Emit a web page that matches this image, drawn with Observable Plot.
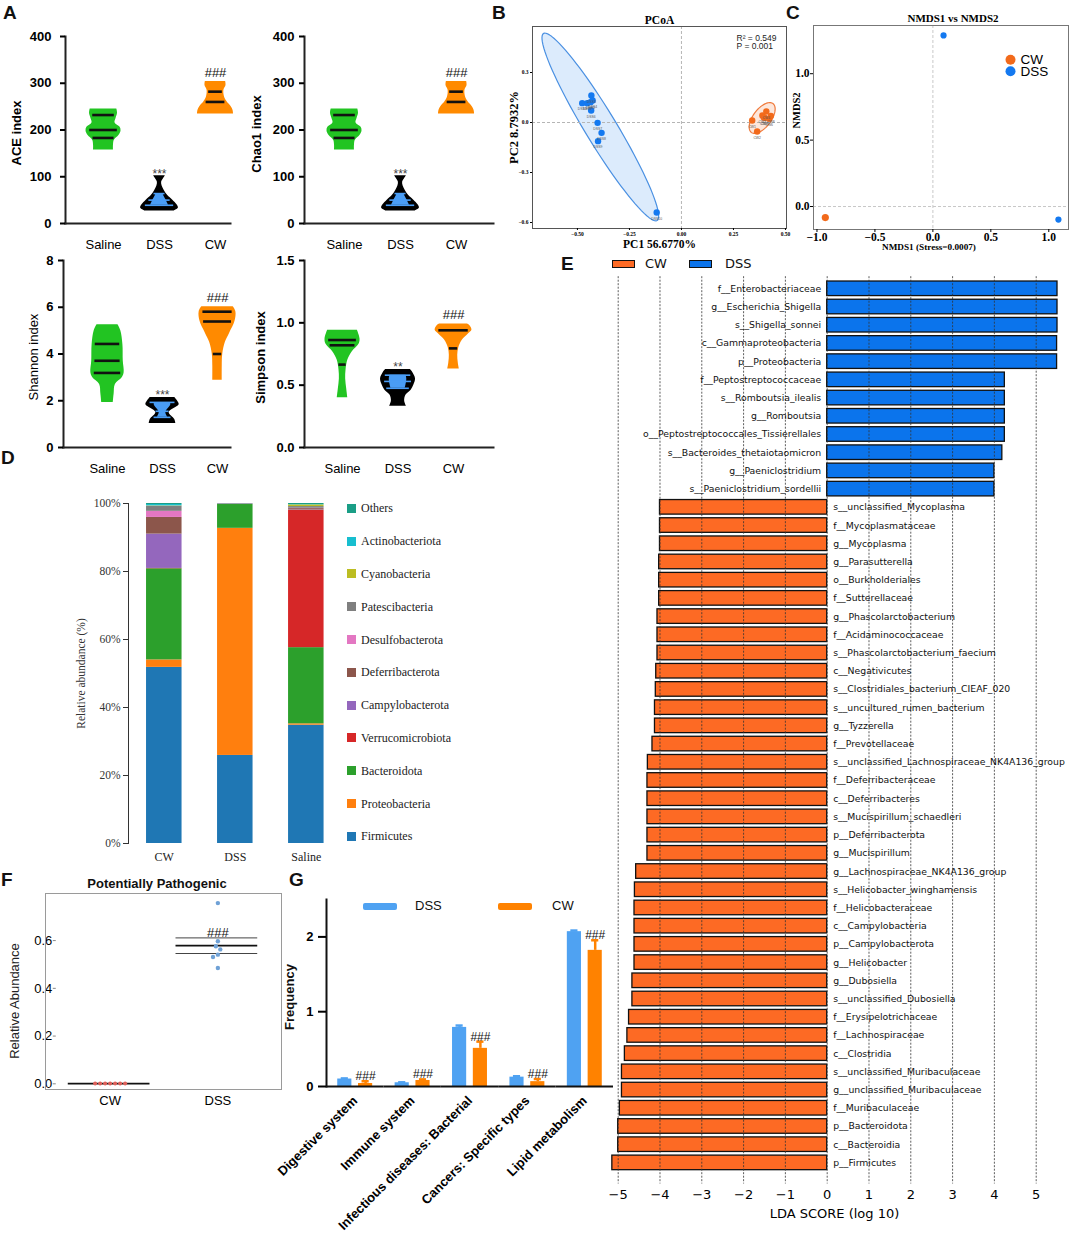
<!DOCTYPE html>
<html><head><meta charset="utf-8">
<script src="https://cdn.jsdelivr.net/npm/d3@7"></script>
<script src="https://cdn.jsdelivr.net/npm/@observablehq/plot@0.6"></script>
<style>
html,body{margin:0;padding:0;background:#fff;}
#page{position:relative;width:1072px;height:1243px;overflow:hidden;font-family:"Liberation Sans",Arial,sans-serif;}
#page svg{overflow:visible;}
.plab{position:absolute;font:bold 19px "Liberation Sans",Arial,sans-serif;line-height:1;color:#111;}
</style></head><body><div id="page"></div>
<script>
// ---------------- DATA ----------------
// Panel A: violin profiles [value, relative density width]
const groupsA = ["Saline", "DSS", "CW"];
const aceSaline = [[157,0.57],[168,0.57],[178,0.62],[188,0.88],[198,1.0],[206,0.95],[215,0.66],[225,0.72],[236,0.8],[245,0.76]];
const aceDSS = [[27,0.85],[33,1.08],[40,1.0],[50,0.76],[60,0.47],[70,0.28],[80,0.15],[88,0.12],[95,0.22],[102,0.34]];
const aceCW = [[234,1.03],[242,1.0],[250,0.9],[260,0.67],[270,0.52],[285,0.48],[295,0.6],[304,0.58]];
const aceQuart = [[232,200,183],[64,50,39],[282,260]];
const aceSig = ["", "***", "###"];
const chao1Saline = [[157,0.57],[168,0.57],[178,0.62],[188,0.88],[198,1.0],[206,0.95],[215,0.66],[225,0.72],[236,0.8],[245,0.76]];
const chao1DSS = [[27,0.85],[33,1.08],[40,1.0],[50,0.76],[60,0.47],[70,0.28],[80,0.15],[88,0.12],[95,0.22],[102,0.34]];
const chao1CW = [[234,1.03],[242,1.0],[250,0.9],[260,0.67],[270,0.52],[285,0.48],[295,0.6],[304,0.58]];
const chao1Quart = [[232,200,183],[64,50,39],[282,260]];
const chao1Sig = ["", "***", "###"];
const shannonSaline = [[1.93,0.33],[2.3,0.38],[2.7,0.45],[3.0,0.85],[3.2,0.95],[3.7,0.9],[4.4,0.88],[5.0,0.76],[5.25,0.6]];
const shannonDSS = [[1.03,0.76],[1.2,0.7],[1.5,0.38],[1.83,0.95],[2.0,0.85],[2.14,0.7]];
const shannonCW = [[2.88,0.27],[3.5,0.27],[4.0,0.3],[4.5,0.45],[4.9,0.7],[5.4,1.0],[5.8,1.05],[6.02,0.9]];
const shannonQuart = [[4.43,3.71,3.19],[1.93,1.55,1.29],[5.81,5.39,4.0]];
const shannonSig = ["", "***", "###"];
const simpsonSaline = [[0.40,0.3],[0.47,0.24],[0.55,0.18],[0.62,0.2],[0.7,0.3],[0.77,0.57],[0.83,0.95],[0.87,1.0],[0.94,0.85]];
const simpsonDSS = [[0.33,0.48],[0.37,0.38],[0.42,0.45],[0.46,0.75],[0.5,0.9],[0.55,1.0],[0.6,0.85],[0.625,0.7]];
const simpsonCW = [[0.63,0.33],[0.68,0.27],[0.74,0.24],[0.8,0.3],[0.86,0.5],[0.91,0.85],[0.94,1.05],[0.975,0.95],[0.99,0.8]];
const simpsonQuart = [[0.862,0.82,0.665],[0.58,0.53,0.475],[0.94,0.795]];
const simpsonSig = ["", "**", "###"];

// Panel B: PCoA
const pcoaDSSx = [-0.477,-0.453,-0.433,-0.427,-0.437,-0.434,-0.403,-0.384,-0.401,-0.119];
const pcoaDSSy = [0.116,0.116,0.162,0.132,0.122,0.072,-0.002,-0.062,-0.112,-0.54];
const pcoaCWx = [0.340,0.364,0.389,0.408,0.401,0.422,0.396,0.430];
const pcoaCWy = [0.012,-0.054,0.042,0.066,0.028,0.022,0.030,0.040];
// confidence ellipses: centre and two semi-axis vectors (data units)
const ellGroups = ["DSS", "CW"];
const ellCX = [-0.39, 0.388], ellCY = [-0.027, 0.027];
const ellUX = [-0.273, 0.052], ellUY = [0.561, 0.0864];
const ellVX = [0.0644, 0.0346], ellVY = [0.0489, -0.0324];

// Panel C: NMDS
const nmdsGroups = ["CW", "DSS", "DSS"];
const nmdsX = [-0.928, 0.092, 1.083];
const nmdsY = [-0.083, 1.288, -0.098];

// Panel D: relative abundance (%)
const phyla = ["Firmicutes","Proteobacteria","Bacteroidota","Verrucomicrobiota","Campylobacterota","Deferribacterota","Desulfobacterota","Patescibacteria","Cyanobacteria","Actinobacteriota","Others"];
const groupsD = ["CW", "DSS", "Saline"];
const abCW = [51.8, 2.2, 26.8, 0.1, 10.1, 4.9, 1.8, 1.5, 0.1, 0.4, 0.3];
const abDSS = [25.9, 66.8, 7.0, 0.05, 0.0, 0.1, 0.05, 0.0, 0.0, 0.05, 0.05];
const abSaline = [34.8, 0.4, 22.4, 40.4, 0.1, 0.4, 0.1, 0.5, 0.5, 0.1, 0.3];

// Panel E: LDA scores
const ldaDSSNames = ["f__Enterobacteriaceae","g__Escherichia_Shigella","s__Shigella_sonnei","c__Gammaproteobacteria","p__Proteobacteria","f__Peptostreptococcaceae","s__Romboutsia_ilealis","g__Romboutsia","o__Peptostreptococcales_Tissierellales","s__Bacteroides_thetaiotaomicron","g__Paeniclostridium","s__Paeniclostridium_sordellii"];
const ldaDSS = [5.51,5.51,5.51,5.50,5.50,4.25,4.25,4.25,4.25,4.19,4.00,4.00];
const ldaCWNames = ["s__unclassified_Mycoplasma","f__Mycoplasmataceae","g__Mycoplasma","g__Parasutterella","o__Burkholderiales","f__Sutterellaceae","g__Phascolarctobacterium","f__Acidaminococcaceae","s__Phascolarctobacterium_faecium","c__Negativicutes","s__Clostridiales_bacterium_CIEAF_020","s__uncultured_rumen_bacterium","g__Tyzzerella","f__Prevotellaceae","s__unclassified_Lachnospiraceae_NK4A136_group","f__Deferribacteraceae","c__Deferribacteres","s__Mucispirillum_schaedleri","p__Deferribacterota","g__Mucispirillum","g__Lachnospiraceae_NK4A136_group","s__Helicobacter_winghamensis","f__Helicobacteraceae","c__Campylobacteria","p__Campylobacterota","g__Helicobacter","g__Dubosiella","s__unclassified_Dubosiella","f__Erysipelotrichaceae","f__Lachnospiraceae","c__Clostridia","s__unclassified_Muribaculaceae","g__unclassified_Muribaculaceae","f__Muribaculaceae","p__Bacteroidota","c__Bacteroidia","p__Firmicutes"];
const ldaCW = [-4.00,-4.00,-4.00,-4.02,-4.02,-4.02,-4.06,-4.06,-4.06,-4.09,-4.10,-4.12,-4.12,-4.18,-4.29,-4.30,-4.30,-4.30,-4.30,-4.30,-4.57,-4.60,-4.61,-4.61,-4.61,-4.61,-4.66,-4.66,-4.74,-4.78,-4.84,-4.91,-4.91,-4.96,-5.00,-5.00,-5.14];
const ldaTicks = [-5,-4,-3,-2,-1,0,1,2,3,4,5];

// Panel F: potentially pathogenic
const ppGroups = ["CW", "DSS"];
const ppCW = [0.001,0.001,0.001,0.001,0.001,0.001,0.001];
const ppDSS = [0.757,0.597,0.576,0.563,0.541,0.531,0.485];

// Panel G: KEGG frequency
const kegg = ["Digestive system","Immune system","Infectious diseases: Bacterial","Cancers: Specific types","Lipid metabolism"];
const keggDSS = [0.10, 0.05, 0.79, 0.125, 2.07];
const keggDSSErr = [0.008, 0.006, 0.025, 0.012, 0.015];
const keggCW = [0.04, 0.08, 0.51, 0.065, 1.82];
const keggCWErr = [0.03, 0.015, 0.09, 0.035, 0.135];

// ---------------- STYLE ----------------
const SANS = "'Liberation Sans', Arial, sans-serif";
const SERIF = "'Liberation Serif', 'Times New Roman', serif";
const DEJAVU = "'DejaVu Sans', sans-serif";
const colorsA = ["#22c422", "#000000", "#ff8a00"];
const innerBlue = "#4a9df5";
const phylaColors = ["#1f77b4","#ff7f0e","#2ca02c","#d62728","#9467bd","#8c564b","#e377c2","#7f7f7f","#bcbd22","#17becf","#1a9e86"];
const ldaColor = {CW: "#fd6a24", DSS: "#0b74ec"};
const pcoaBlue = "#1479f0", pcoaOrange = "#f26a1b";

const page = document.getElementById("page");
function put(node, left, top, w) {
  const d = document.createElement("div");
  d.style.cssText = `position:absolute;left:${left}px;top:${top}px;width:${w}px;`;
  d.appendChild(node); page.appendChild(d); return d;
}
function html(text, left, top, css) {
  const d = document.createElement("div");
  d.textContent = text;
  d.style.cssText = `position:absolute;left:${left}px;top:${top}px;white-space:nowrap;` + (css || "");
  page.appendChild(d); return d;
}
function vtext(text, cx, cy, css) {
  const d = html(text, cx, cy, css);
  d.style.transform = "translate(-50%,-50%) rotate(-90deg)";
  return d;
}
const baseStyle = f => ({fontFamily: f, background: "transparent", overflow: "visible"});

// ---------------- PANEL A ----------------
const HW = 17.5; // px of max half width
function interp(prof, v) {
  for (let i = 1; i < prof.length; i++) {
    const [v0, w0] = prof[i - 1], [v1, w1] = prof[i];
    if (v >= v0 && v <= v1) return w0 + (w1 - w0) * (v - v0) / (v1 - v0);
  }
  return v < prof[0][0] ? prof[0][1] : prof[prof.length - 1][1];
}
function violinPanel(o) {
  const hw = HW / o.spacing;
  const shapes = [], inner = [], lines = [], stars = [], hashes = [];
  o.profiles.forEach((prof, i) => {
    const pos = i + 1, g = groupsA[i];
    for (const [v, w] of prof) shapes.push({g, v, x1: pos - w * hw, x2: pos + w * hw});
    const q = o.quarts[i];
    if (g === "DSS") {
      const lo = d3.min(q), hi = d3.max(q);
      const vs = [lo, ...prof.map(p => p[0]).filter(v => v > lo && v < hi), hi];
      for (const v of vs) { const w = interp(prof, v) * 0.5; inner.push({g, v, x1: pos - w * hw, x2: pos + w * hw}); }
    }
    for (const v of q) { const w = interp(prof, v) * 0.8; lines.push({g, v, x1: pos - w * hw, x2: pos + w * hw}); }
    const s = o.sig[i], top = d3.max(prof, p => p[0]);
    if (s.startsWith("*")) stars.push({pos, v: top, s});
    else if (s) hashes.push({pos, v: top, s});
  });
  const marks = [];
  groupsA.forEach((g, i) => marks.push(Plot.areaX(shapes.filter(d => d.g === g), {y: "v", x1: "x1", x2: "x2", fill: colorsA[i], curve: "catmull-rom"})));
  marks.push(Plot.areaX(inner, {y: "v", x1: "x1", x2: "x2", fill: innerBlue, curve: "catmull-rom"}));
  marks.push(Plot.ruleY(lines.filter(d => d.g !== "DSS"), {y: "v", x1: "x1", x2: "x2", stroke: "#111", strokeWidth: 2.6}));
  marks.push(Plot.ruleY(lines.filter(d => d.g === "DSS"), {y: "v", x1: "x1", x2: "x2", stroke: innerBlue, strokeWidth: 1.6}));
  marks.push(Plot.text(stars, {x: "pos", y: "v", text: "s", dy: -2, fontSize: 12, fill: "#444"}));
  marks.push(Plot.text(hashes, {x: "pos", y: "v", text: "s", dy: -9, fontSize: 13, fill: "#111"}));
  marks.push(Plot.frame({anchor: "left", stroke: "#222", strokeWidth: 2}));
  marks.push(Plot.frame({anchor: "bottom", stroke: "#222", strokeWidth: 2}));
  marks.push(Plot.axisY({ticks: o.yTicks, tickFormat: o.yFmt, tickSize: 5, tickPadding: o.tp, fontSize: 13, fontWeight: "bold", strokeWidth: 2, label: null}));
  marks.push(Plot.axisX({ticks: [1, 2, 3], tickFormat: i => groupsA[i - 1], tickSize: 0, tickPadding: 16, fontSize: 13, label: null}));
  marks.push(Plot.text([o.title], {frameAnchor: "left", textAnchor: "middle", lineAnchor: "middle", dx: o.titleDx, dy: o.titleDy, rotate: -90, fontSize: 13, fontWeight: o.titleBold ? "bold" : "normal"}));
  const p = Plot.plot({width: o.width, height: o.height, marginLeft: o.mL, marginRight: o.mR, marginTop: o.mT, marginBottom: o.mB,
    x: {domain: o.xDomain}, y: {domain: o.yDomain}, style: baseStyle(SANS), marks});
  put(p, o.left, o.top, o.width);
}
const f0 = d3.format("d"), f1 = d3.format(".1f");
violinPanel({profiles: [aceSaline, aceDSS, aceCW], quarts: aceQuart, sig: aceSig, spacing: 56, left: 0, top: 0, width: 240, height: 260,
  mL: 65, mR: 10, mT: 36, mB: 37, xDomain: [0.321, 3.268], yDomain: [0, 400], yTicks: [0, 100, 200, 300, 400], yFmt: f0, tp: 9,
  title: "ACE index", titleBold: true, titleDx: -49, titleDy: 3});
violinPanel({profiles: [chao1Saline, chao1DSS, chao1CW], quarts: chao1Quart, sig: chao1Sig, spacing: 56, left: 240, top: 0, width: 260, height: 260,
  mL: 64, mR: 7, mT: 36, mB: 37, xDomain: [0.286, 3.66], yDomain: [0, 400], yTicks: [0, 100, 200, 300, 400], yFmt: f0, tp: 5,
  title: "Chao1 index", titleBold: true, titleDx: -48, titleDy: 4});
violinPanel({profiles: [shannonSaline, shannonDSS, shannonCW], quarts: shannonQuart, sig: shannonSig, spacing: 55, left: 0, top: 250, width: 240, height: 230,
  mL: 63, mR: 10, mT: 10, mB: 33, xDomain: [0.2, 3.236], yDomain: [0, 8], yTicks: [0, 2, 4, 6, 8], yFmt: f0, tp: 5,
  title: "Shannon index", titleBold: false, titleDx: -30, titleDy: 3});
violinPanel({profiles: [simpsonSaline, simpsonDSS, simpsonCW], quarts: simpsonQuart, sig: simpsonSig, spacing: 55.5, left: 240, top: 250, width: 260, height: 230,
  mL: 64, mR: 7, mT: 10, mB: 33, xDomain: [0.315, 3.72], yDomain: [0, 1.5], yTicks: [0, 0.5, 1, 1.5], yFmt: f1, tp: 5,
  title: "Simpson index", titleBold: true, titleDx: -44, titleDy: 3.5});

// ---------------- PANEL B ----------------
const pcoaPts = [
  ...pcoaDSSx.map((x, i) => ({g: "DSS", id: "DSS" + (i + 1), x, y: pcoaDSSy[i]})),
  ...pcoaCWx.map((x, i) => ({g: "CW", id: "CW" + (i + 1), x, y: pcoaCWy[i]}))
];
function ellipsePts(i) {
  const pts = [];
  for (let k = 0; k <= 90; k++) {
    const t = k / 90 * 2 * Math.PI;
    pts.push({x: ellCX[i] + ellUX[i] * Math.cos(t) + ellVX[i] * Math.sin(t), y: ellCY[i] + ellUY[i] * Math.cos(t) + ellVY[i] * Math.sin(t)});
  }
  return pts;
}
{
  const p = Plot.plot({width: 300, height: 260, marginLeft: 32, marginRight: 14, marginTop: 26, marginBottom: 32,
    x: {domain: [-0.716, 0.505]}, y: {domain: [-0.636, 0.576]}, style: baseStyle(SERIF),
    marks: [
      Plot.line(ellipsePts(0), {x: "x", y: "y", fill: "#dcebfc", stroke: "#4a90e2", strokeWidth: 1.2}),
      Plot.line(ellipsePts(1), {x: "x", y: "y", fill: "#fde6da", stroke: "#f07a3c", strokeWidth: 1.2}),
      Plot.ruleX([0], {stroke: "#b5b5b5", strokeDasharray: "3,2"}),
      Plot.ruleY([0], {stroke: "#b5b5b5", strokeDasharray: "3,2"}),
      Plot.dot(pcoaPts.filter(d => d.g === "DSS"), {x: "x", y: "y", r: 3.2, fill: pcoaBlue}),
      Plot.dot(pcoaPts.filter(d => d.g === "CW"), {x: "x", y: "y", r: 3.2, fill: pcoaOrange}),
      Plot.text(pcoaPts, {x: "x", y: "y", text: "id", dy: 6, fontSize: 3.4, fill: "#555", fontFamily: SANS}),
      Plot.frame({stroke: "#555"}),
      Plot.axisX({ticks: [-0.5, -0.25, 0, 0.25, 0.5], tickFormat: d3.format(".2f"), tickSize: 2, tickPadding: 2, fontSize: 5.5, fontWeight: "bold", label: null}),
      Plot.axisY({ticks: [-0.6, -0.3, 0, 0.3], tickFormat: d3.format(".1f"), tickSize: 2, tickPadding: 2, fontSize: 5.5, fontWeight: "bold", label: null}),
      Plot.text(["PCoA"], {frameAnchor: "top", lineAnchor: "middle", dy: -6, fontSize: 11.5, fontWeight: "bold"}),
      Plot.text(["R² = 0.549"], {frameAnchor: "top-right", lineAnchor: "middle", dx: -50, dy: 11.5, textAnchor: "start", fontSize: 8.5, fontFamily: SANS, fill: "#222"}),
      Plot.text(["P = 0.001"], {frameAnchor: "top-right", lineAnchor: "middle", dx: -50, dy: 19.8, textAnchor: "start", fontSize: 8.5, fontFamily: SANS, fill: "#222"}),
      Plot.text(["PC1 56.6770%"], {frameAnchor: "bottom", lineAnchor: "middle", dy: 15.5, fontSize: 11.5, fontWeight: "bold"}),
      Plot.text(["PC2 8.7932%"], {frameAnchor: "left", textAnchor: "middle", lineAnchor: "middle", dx: -19, rotate: -90, fontSize: 12.5, fontWeight: "bold"})
    ]});
  put(p, 500, 0, 300);
}

// ---------------- PANEL C ----------------
{
  const pts = nmdsX.map((x, i) => ({g: nmdsGroups[i], x, y: nmdsY[i]}));
  const p = Plot.plot({width: 292, height: 260, marginLeft: 33, marginRight: 4, marginTop: 25, marginBottom: 31,
    x: {domain: [-1.03, 1.17]}, y: {domain: [-0.173, 1.363]}, style: baseStyle(SERIF),
    marks: [
      Plot.ruleX([0], {stroke: "#c8c8c8", strokeDasharray: "3,2"}),
      Plot.ruleY([0], {stroke: "#c8c8c8", strokeDasharray: "3,2"}),
      Plot.dot(pts.filter(d => d.g === "CW"), {x: "x", y: "y", r: 3.6, fill: pcoaOrange}),
      Plot.dot(pts.filter(d => d.g === "DSS"), {x: "x", y: "y", r: 3.1, fill: pcoaBlue}),
      Plot.frame({stroke: "#777"}),
      Plot.axisX({ticks: [-1, -0.5, 0, 0.5, 1], tickFormat: d3.format(".1f"), tickSize: 3, tickPadding: 0, fontSize: 11.5, fontWeight: "bold", label: null}),
      Plot.axisY({ticks: [0, 0.5, 1], tickFormat: d3.format(".1f"), tickSize: 3, tickPadding: 1, fontSize: 11.5, fontWeight: "bold", label: null}),
      Plot.text(["NMDS1 vs NMDS2"], {frameAnchor: "top", lineAnchor: "middle", dx: 12, dy: -7, fontSize: 11, fontWeight: "bold"}),
      Plot.text(["NMDS1 (Stress=0.0007)"], {frameAnchor: "bottom", lineAnchor: "middle", dx: -12, dy: 17.5, fontSize: 9.2, fontWeight: "bold"}),
      Plot.text(["NMDS2"], {frameAnchor: "left", textAnchor: "middle", lineAnchor: "middle", dx: -17, dy: -17, rotate: -90, fontSize: 10.5, fontWeight: "bold"}),
      Plot.dot(["CW"], {frameAnchor: "top-right", dx: -58, dy: 34.3, r: 5, fill: pcoaOrange}),
      Plot.dot(["DSS"], {frameAnchor: "top-right", dx: -58, dy: 45.7, r: 5, fill: pcoaBlue}),
      Plot.text(["CW"], {frameAnchor: "top-right", lineAnchor: "middle", dx: -48, dy: 34.3, textAnchor: "start", fontSize: 13.5, fontFamily: SANS}),
      Plot.text(["DSS"], {frameAnchor: "top-right", lineAnchor: "middle", dx: -48, dy: 45.7, textAnchor: "start", fontSize: 13.5, fontFamily: SANS})
    ]});
  put(p, 780, 0, 292);
}

// ---------------- PANEL D ----------------
{
  const abund = [abCW, abDSS, abSaline];
  const rows = [];
  groupsD.forEach((g, gi) => phyla.forEach((ph, pi) => rows.push({g, ph, v: abund[gi][pi]})));
  const p = Plot.plot({width: 560, height: 390, marginLeft: 128, marginRight: 218.4, marginTop: 23, marginBottom: 27,
    x: {domain: groupsD, paddingInner: 0.5, paddingOuter: 0.254, round: false}, y: {domain: [0, 100]},
    color: {domain: phyla, range: phylaColors}, style: baseStyle(SERIF),
    marks: [
      Plot.barY(rows, {x: "g", y: "v", fill: "ph"}),
      Plot.frame({anchor: "left", stroke: "#333"}),
      Plot.axisY({ticks: [0, 20, 40, 60, 80, 100], tickFormat: d => d + "%", tickSize: 5, tickPadding: 3, fontSize: 11.5, fill: "#333", stroke: "#333", label: null}),
      Plot.axisX({tickSize: 0, tickPadding: 9, fontSize: 12, fill: "#222", label: null}),
      Plot.text(["Relative abundance (%)"], {frameAnchor: "left", textAnchor: "middle", lineAnchor: "middle", dx: -47, rotate: -90, fontSize: 11.5, fill: "#333"})
    ]});
  put(p, 0, 480, 560);
  // legend (reverse of stacking order)
  phyla.slice().reverse().forEach((ph, k) => {
    const color = phylaColors[phyla.indexOf(ph)];
    const cy = 508.3 + k * 32.8;
    const sw = document.createElement("div");
    sw.style.cssText = `position:absolute;left:347px;top:${cy - 4.5}px;width:9px;height:9px;background:${color};`;
    page.appendChild(sw);
    html(ph, 361, cy - 8, `font:12px ${SERIF};line-height:16px;color:#222;`);
  });
}

// ---------------- PANEL E ----------------
{
  const rows = [
    ...ldaDSSNames.map((n, i) => ({n, v: ldaDSS[i], g: "DSS"})),
    ...ldaCWNames.map((n, i) => ({n, v: ldaCW[i], g: "CW"}))
  ];
  const p = Plot.plot({width: 472, height: 993, marginLeft: 10, marginRight: 4, marginTop: 29.2, marginBottom: 71.5,
    x: {domain: [-5.184, 5.773]}, y: {domain: rows.map(d => d.n), paddingInner: 0.2, paddingOuter: 0.1, round: false, axis: null},
    style: baseStyle(DEJAVU),
    marks: [
      Plot.barX(rows.filter(d => d.g === "DSS"), {y: "n", x: "v", fill: ldaColor.DSS, stroke: "#111", strokeWidth: 1.3}),
      Plot.barX(rows.filter(d => d.g === "CW"), {y: "n", x: "v", fill: ldaColor.CW, stroke: "#111", strokeWidth: 1.3}),
      Plot.ruleX(ldaTicks, {stroke: "#333", strokeDasharray: "2,1.5", strokeWidth: 0.8, insetTop: -3, insetBottom: -12}),
      Plot.text(rows.filter(d => d.g === "DSS"), {y: "n", x: 0, text: "n", textAnchor: "end", dx: -6, fontSize: 9.3, fill: "#111"}),
      Plot.text(rows.filter(d => d.g === "CW"), {y: "n", x: 0, text: "n", textAnchor: "start", dx: 6, fontSize: 9.3, fill: "#111"}),
      Plot.axisX({ticks: ldaTicks, tickSize: 0, tickPadding: 18, fontSize: 13, label: null}),
      Plot.text(["LDA SCORE (log 10)"], {frameAnchor: "bottom", lineAnchor: "middle", dx: -5, dy: 42, fontSize: 13})
    ]});
  put(p, 600, 250, 472);
  // legend
  const box = (l, c) => { const d = document.createElement("div"); d.style.cssText = `position:absolute;left:${l}px;top:259.5px;width:23px;height:8px;background:${c};border:1.4px solid #111;box-sizing:border-box;`; page.appendChild(d); };
  box(611.7, ldaColor.CW); box(688.7, ldaColor.DSS);
  html("CW", 645, 255.5, `font:13px ${DEJAVU};line-height:16px;color:#111;`);
  html("DSS", 725, 255.5, `font:13px ${DEJAVU};line-height:16px;color:#111;`);
}

// ---------------- PANEL F ----------------
{
  const rows = [...ppCW.map(v => ({g: "CW", v})), ...ppDSS.map(v => ({g: "DSS", v}))];
  const stats = ppGroups.map(g => {
    const vals = rows.filter(d => d.g === g).map(d => d.v);
    return {g, mean: d3.mean(vals), sem: d3.deviation(vals) / Math.sqrt(vals.length)};
  });
  const semRows = stats.filter(d => d.sem > 0.001).flatMap(d => [{g: d.g, v: d.mean - d.sem}, {g: d.g, v: d.mean + d.sem}]);
  const p = Plot.plot({width: 290, height: 245, marginLeft: 45, marginRight: 8, marginTop: 23.3, marginBottom: 25,
    fx: {domain: ppGroups, paddingInner: 0, paddingOuter: 0.1, round: false}, y: {domain: [-0.028, 0.796]}, style: baseStyle(SANS),
    marks: [
      Plot.ruleY(stats, {fx: "g", y: "mean", insetLeft: 12, insetRight: 14, stroke: "#111", strokeWidth: 1.8}),
      Plot.ruleY(semRows, {fx: "g", y: "v", insetLeft: 12, insetRight: 14, stroke: "#444", strokeWidth: 1}),
      Plot.dot(rows.filter(d => d.g === "CW"), Plot.dodgeX("middle", {fx: "g", y: "v", r: 2, fill: "#e0605a"})),
      Plot.dot(rows.filter(d => d.g === "DSS"), Plot.dodgeX("middle", {fx: "g", y: "v", r: 2.2, fill: "#6fa1d6"})),
      Plot.text(stats.filter(d => d.g === "DSS"), {fx: "g", y: d => d.mean + d.sem, text: () => "###", lineAnchor: "bottom", dy: -1, fontSize: 13, fill: "#111"}),
      Plot.axisY({ticks: [0, 0.2, 0.4, 0.6], tickFormat: d3.format(".1f"), tickSize: 3, tickPadding: 1, fontSize: 13, stroke: "#888", label: null}),
      Plot.axisFx({anchor: "bottom", tickSize: 0, tickPadding: 5, fontSize: 13, label: null})
    ]});
  put(p, 0, 870, 290);
  const fr = document.createElement("div");
  fr.style.cssText = "position:absolute;left:45px;top:893px;width:237px;height:197px;border:1.2px solid #9a9a9a;box-sizing:border-box;";
  page.appendChild(fr);
  html("Potentially Pathogenic", 157, 876, `font:bold 13px ${SANS};line-height:16px;color:#111;transform:translateX(-50%);`);
  vtext("Relative Abundance", 15, 1001, `font:13px ${SANS};line-height:16px;color:#222;`);
}

// ---------------- PANEL G ----------------
{
  const rows = [];
  kegg.forEach((c, i) => {
    rows.push({c, g: "DSS", v: keggDSS[i], e: keggDSSErr[i]});
    rows.push({c, g: "CW", v: keggCW[i], e: keggCWErr[i]});
  });
  const p = Plot.plot({width: 373, height: 363, marginLeft: 86, marginRight: 0, marginTop: 19, marginBottom: 157,
    fx: {domain: kegg, padding: 0, round: false}, x: {domain: ["DSS", "CW"], paddingInner: 0.32, paddingOuter: 0.54, round: false, axis: null},
    y: {domain: [0, 2.5]}, color: {domain: ["DSS", "CW"], range: ["#4fa2f2", "#ff8200"]}, style: baseStyle(SANS),
    marks: [
      Plot.barY(rows, {fx: "c", x: "g", y: "v", fill: "g"}),
      Plot.ruleX(rows, {fx: "c", x: "g", y1: "v", y2: d => d.v + d.e, stroke: "g", strokeWidth: 2.5}),
      Plot.tickY(rows, {fx: "c", x: "g", y: d => d.v + d.e, stroke: "g", strokeWidth: 2.5, insetLeft: 3.5, insetRight: 3.5}),
      Plot.text(rows.filter(d => d.g === "CW"), {fx: "c", x: "g", y: d => d.v + d.e, text: () => "###", lineAnchor: "bottom", dy: -1, fontSize: 12, fill: "#111"}),
      Plot.ruleY([0], {stroke: "#111", strokeWidth: 2}),
      Plot.frame({anchor: "left", facetAnchor: "left", stroke: "#111", strokeWidth: 2}),
      Plot.axisY({ticks: [0, 1, 2], tickFormat: d3.format("d"), tickSize: 8, tickPadding: 5, fontSize: 13, fontWeight: "bold", strokeWidth: 2, label: null}),
      Plot.axisFx({anchor: "bottom", tickRotate: -45, tickSize: 0, tickPadding: 12, fontSize: 13, fontWeight: "bold", label: null})
    ]});
  put(p, 240, 880, 373);
  vtext("Frequency", 290, 997, `font:bold 13px ${SANS};line-height:16px;color:#111;`);
  const lg = (l, c) => { const d = document.createElement("div"); d.style.cssText = `position:absolute;left:${l}px;top:903px;width:34px;height:6.5px;background:${c};border-radius:2px;`; page.appendChild(d); };
  lg(363, "#4fa2f2"); lg(498, "#ff8200");
  html("DSS", 415, 897.5, `font:13px ${SANS};line-height:16px;color:#111;`);
  html("CW", 552, 897.5, `font:13px ${SANS};line-height:16px;color:#111;`);
}

// ---------------- PANEL LETTERS ----------------
[["A", 3, 2.5], ["B", 492, 2.5], ["C", 786, 2.5], ["D", 1, 447.5], ["E", 561, 253.5], ["F", 1, 869.5], ["G", 289, 869.5]].forEach(([t, l, tp]) => {
  const d = document.createElement("div"); d.className = "plab"; d.textContent = t;
  d.style.left = l + "px"; d.style.top = tp + "px"; page.appendChild(d);
});
</script></body></html>
